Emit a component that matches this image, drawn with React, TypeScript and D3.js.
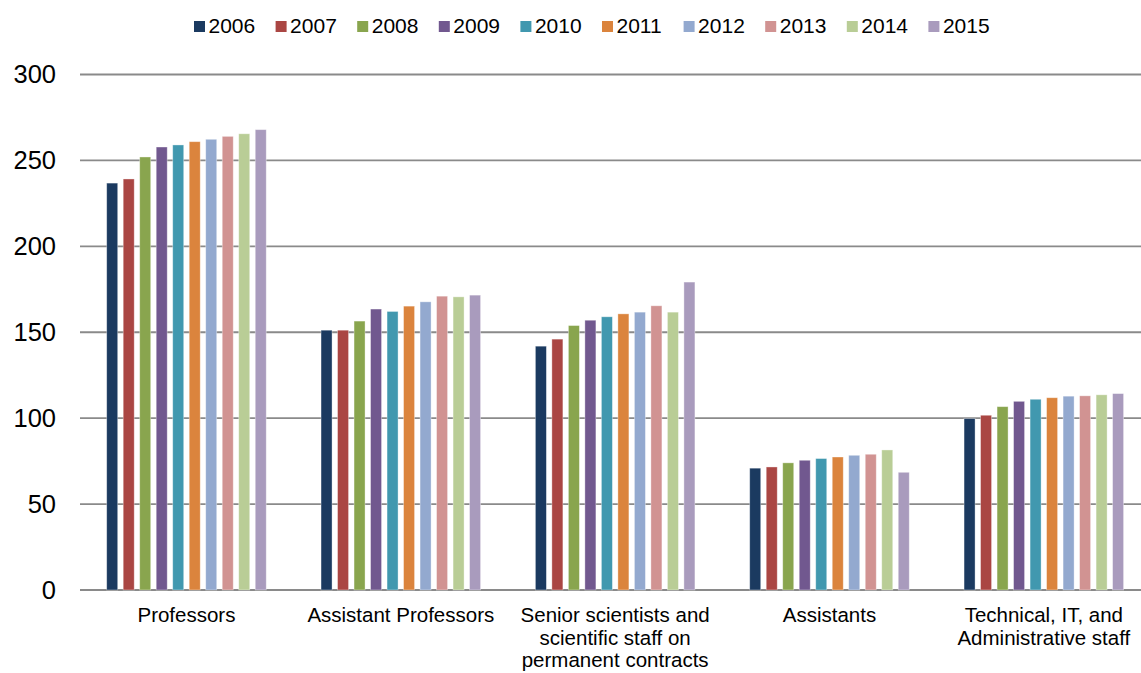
import React from "react";
import * as d3 from "d3";

const categories: string[][] = [
  ["Professors"],
  ["Assistant Professors"],
  ["Senior scientists and", "scientific staff on", "permanent contracts"],
  ["Assistants"],
  ["Technical, IT, and", "Administrative staff"],
];
const categoryKeys = ["prof", "asstprof", "senior", "assistants", "technical"];

const years = ["2006", "2007", "2008", "2009", "2010", "2011", "2012", "2013", "2014", "2015"];

const professors = [236.8, 239.2, 252.0, 257.8, 259.0, 260.9, 262.3, 264.0, 265.5, 267.9];
const assistantProfessors = [151.2, 151.2, 156.5, 163.5, 162.1, 165.2, 167.7, 171.0, 170.6, 171.6];
const seniorScientists = [141.9, 146.0, 153.9, 157.0, 159.0, 160.7, 161.7, 165.4, 161.7, 179.2];
const assistants = [70.9, 71.6, 74.0, 75.5, 76.5, 77.4, 78.4, 79.0, 81.5, 68.5];
const technical = [99.8, 101.7, 106.7, 109.8, 111.0, 111.9, 112.8, 113.0, 113.6, 114.3];

const seriesByCategory = [professors, assistantProfessors, seniorScientists, assistants, technical];

const colors = [
  "#1B3A60",
  "#AA4643",
  "#89A54E",
  "#71588F",
  "#4198AF",
  "#DB843D",
  "#93A9CF",
  "#D19392",
  "#B9CD96",
  "#A99BBD",
];

const yTicks = [0, 50, 100, 150, 200, 250, 300];

const W = 1141;
const H = 673;
const FONT = "'Liberation Sans', Arial, sans-serif";

export default function App() {
  const x0 = d3.scaleBand<string>().domain(categoryKeys).range([79.3, 1151]).padding(0);
  const x1 = d3
    .scaleBand<string>()
    .domain(years)
    .range([0, x0.bandwidth()])
    .paddingInner(0.333)
    .paddingOuter(1.66);
  const y = d3.scaleLinear().domain([0, 300]).range([590, 74.5]);
  const color = d3.scaleOrdinal<string, string>().domain(years).range(colors);

  const legendStart = 194;
  const legendStep = 81.6;

  return (
    <svg
      width={W}
      height={H}
      style={{ position: "absolute", left: 0, top: 0, background: "#fff" }}
      fontFamily={FONT}
    >
      <rect x={0} y={0} width={W} height={H} fill="#fff" />
      {yTicks.map((t) => (
        <line
          key={"g" + t}
          x1={80}
          x2={W}
          y1={y(t)}
          y2={y(t)}
          stroke="#8a8a8a"
          strokeWidth={1.8}
        />
      ))}
      {yTicks.map((t) => (
        <text
          key={"yl" + t}
          x={56}
          y={y(t)}
          dy="0.35em"
          textAnchor="end"
          fontSize={25.5}
          fill="#000"
        >
          {t}
        </text>
      ))}
      {categoryKeys.map((c, ci) => (
        <g key={c} transform={`translate(${x0(c)},0)`}>
          {years.map((yr, yi) => {
            const v = seriesByCategory[ci][yi];
            return (
              <rect
                key={yr}
                x={x1(yr)}
                y={y(v)}
                width={x1.bandwidth()}
                height={y(0) - y(v)}
                fill={color(yr)}
                stroke="#ffffff"
                strokeOpacity={0.45}
                strokeWidth={0.8}
              />
            );
          })}
        </g>
      ))}
      {categoryKeys.map((c, ci) => (
        <text
          key={"cl" + c}
          x={(x0(c) as number) + x0.bandwidth() / 2}
          y={622}
          textAnchor="middle"
          fontSize={20.5}
          fill="#000"
        >
          {categories[ci].map((line, li) => (
            <tspan key={li} x={(x0(c) as number) + x0.bandwidth() / 2} y={622 + li * 22.5}>
              {line}
            </tspan>
          ))}
        </text>
      ))}
      {years.map((yr, i) => (
        <g key={"lg" + yr} transform={`translate(${legendStart + i * legendStep},0)`}>
          <rect x={0} y={21} width={11} height={11} fill={color(yr)} />
          <text x={14.5} y={32.5} fontSize={21} fill="#000">
            {yr}
          </text>
        </g>
      ))}
    </svg>
  );
}
